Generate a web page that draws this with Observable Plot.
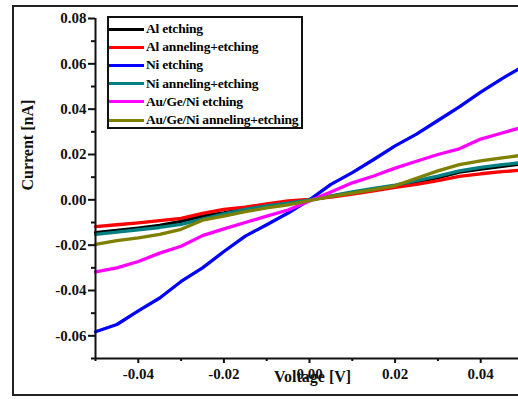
<!DOCTYPE html>
<html>
<head>
<meta charset="utf-8">
<script src="https://cdn.jsdelivr.net/npm/d3@7"></script>
<script src="https://cdn.jsdelivr.net/npm/@observablehq/plot@0.6"></script>
<style>
  html, body { margin: 0; padding: 0; background: #fff; overflow: hidden; width: 518px; height: 399px; }
  #wrap { position: relative; width: 518px; height: 399px; overflow: hidden; }
  #frame { position: absolute; left: 12px; top: 5px; width: 540px; height: 387px; border: 2px solid #222; }
  #chart { position: absolute; left: 0; top: 0; width: 530px; height: 399px; }
  #chart svg { max-width: none !important; }
  #legend { position: absolute; left: 107px; top: 16px; width: 192px; height: 107px; border: 2px solid #111; background: #fff;
            font-family: "Liberation Serif", "Times New Roman", serif; font-weight: bold; font-size: 13.5px; padding-top: 2px; }
  .row { display: flex; align-items: center; height: 18.2px; white-space: nowrap; letter-spacing: -0.2px; }
  .sw { width: 35px; height: 3px; margin-right: 2px; }
</style>
</head>
<body>
<div id="wrap">
  <div id="frame"></div>
  <div id="chart"></div>
  <div id="legend"></div>
</div>
<script>
// Voltage [V]
const voltage = [-0.050, -0.045, -0.040, -0.035, -0.030, -0.025, -0.020, -0.015, -0.010, -0.005,
                 0.000, 0.005, 0.010, 0.015, 0.020, 0.025, 0.030, 0.035, 0.040, 0.045, 0.050];
// Current [nA] for each sample
const alEtching      = [-0.0145, -0.0135, -0.0125, -0.0113, -0.0095, -0.0072, -0.0058, -0.0040, -0.0025, -0.0012,
                        0.0000, 0.0015, 0.0032, 0.0045, 0.0060, 0.0078, 0.0098, 0.0122, 0.0135, 0.0148, 0.0160];
const alAnnealEtch   = [-0.0118, -0.0110, -0.0102, -0.0092, -0.0082, -0.0060, -0.0042, -0.0032, -0.0018, -0.0005,
                        0.0002, 0.0012, 0.0025, 0.0040, 0.0055, 0.0068, 0.0085, 0.0103, 0.0115, 0.0124, 0.0132];
const niEtching      = [-0.0582, -0.0550, -0.0490, -0.0433, -0.0360, -0.0300, -0.0228, -0.0160, -0.0110, -0.0058,
                        0.0000, 0.0068, 0.0120, 0.0178, 0.0238, 0.0290, 0.0350, 0.0410, 0.0475, 0.0535, 0.0590];
const niAnnealEtch   = [-0.0152, -0.0142, -0.0132, -0.0122, -0.0108, -0.0085, -0.0062, -0.0042, -0.0027, -0.0015,
                        0.0000, 0.0018, 0.0035, 0.0050, 0.0065, 0.0085, 0.0105, 0.0128, 0.0143, 0.0155, 0.0165];
const auEtching      = [-0.0318, -0.0300, -0.0272, -0.0235, -0.0205, -0.0158, -0.0128, -0.0100, -0.0072, -0.0045,
                        -0.0005, 0.0035, 0.0075, 0.0105, 0.0140, 0.0170, 0.0200, 0.0225, 0.0268, 0.0295, 0.0322];
const auAnnealEtch   = [-0.0196, -0.0180, -0.0168, -0.0152, -0.0130, -0.0090, -0.0072, -0.0052, -0.0036, -0.0022,
                        -0.0003, 0.0015, 0.0030, 0.0045, 0.0062, 0.0095, 0.0128, 0.0155, 0.0172, 0.0185, 0.0198];

const seriesNames  = ["Al etching", "Al anneling+etching", "Ni etching", "Ni anneling+etching", "Au/Ge/Ni etching", "Au/Ge/Ni anneling+etching"];
const seriesValues = [alEtching, alAnnealEtch, niEtching, niAnnealEtch, auEtching, auAnnealEtch];
const seriesColors = ["#000000", "#ff0000", "#0000ff", "#008080", "#ff00ff", "#808000"];

const xDomain = [-0.05, 0.05];
const yDomain = [-0.07, 0.08];
const xMajor = [-0.04, -0.02, 0.00, 0.02, 0.04];
const xMinor = [-0.05, -0.03, -0.01, 0.01, 0.03, 0.05];
const yMajor = [-0.06, -0.04, -0.02, 0.00, 0.02, 0.04, 0.06, 0.08];
const yMinor = [-0.07, -0.05, -0.03, -0.01, 0.01, 0.03, 0.05, 0.07];
const xTitle = "Voltage [V]";
const yTitle = "Current [nA]";

const rows = seriesNames.flatMap((name, k) => voltage.map((v, j) => ({name, v, i: seriesValues[k][j]})));
const fmt = d => d.toFixed(2);

const chart = Plot.plot({
  width: 530,
  height: 399,
  marginLeft: 95,
  marginRight: 7,
  marginTop: 18,
  marginBottom: 41,
  x: {domain: xDomain},
  y: {domain: yDomain},
  style: {fontFamily: "'Liberation Serif', 'Times New Roman', serif", fontWeight: "bold", fontSize: "15px", background: "transparent", color: "#111", maxWidth: "none"},
  marks: [
    ...seriesNames.map((name, k) => Plot.line(rows.filter(r => r.name === name), {x: "v", y: "i", stroke: seriesColors[k], strokeWidth: 3.3, strokeLinejoin: "round"})),
    Plot.axisY({ticks: yMajor, tickSize: 7, tickPadding: 2, tickFormat: fmt, label: null, strokeWidth: 2}),
    Plot.axisY({ticks: yMinor, tickSize: 4, tickFormat: () => "", label: null, strokeWidth: 2}),
    Plot.axisX({ticks: xMajor, tickSize: 5, tickPadding: 5, tickFormat: fmt, label: null, strokeWidth: 2}),
    Plot.axisX({ticks: xMinor, tickSize: 3, tickFormat: () => "", label: null, strokeWidth: 2}),
    Plot.ruleX([xDomain[0]], {strokeWidth: 2}),
    Plot.ruleY([yDomain[0]], {strokeWidth: 2}),
    Plot.text([xTitle], {frameAnchor: "bottom", dx: 3, dy: 23, fontSize: 16, fontWeight: "bold"}),
    Plot.text([yTitle], {frameAnchor: "left", dx: -68, dy: 2, rotate: -90, fontSize: 16, fontWeight: "bold"})
  ]
});
chart.style.maxWidth = "none";
chart.style.width = "530px";
chart.style.height = "399px";
document.getElementById("chart").appendChild(chart);

const legend = document.getElementById("legend");
seriesNames.forEach((name, k) => {
  const row = document.createElement("div");
  row.className = "row";
  const sw = document.createElement("span");
  sw.className = "sw";
  sw.style.background = seriesColors[k];
  const tx = document.createElement("span");
  tx.textContent = name;
  row.appendChild(sw);
  row.appendChild(tx);
  legend.appendChild(row);
});
</script>
</body>
</html>
